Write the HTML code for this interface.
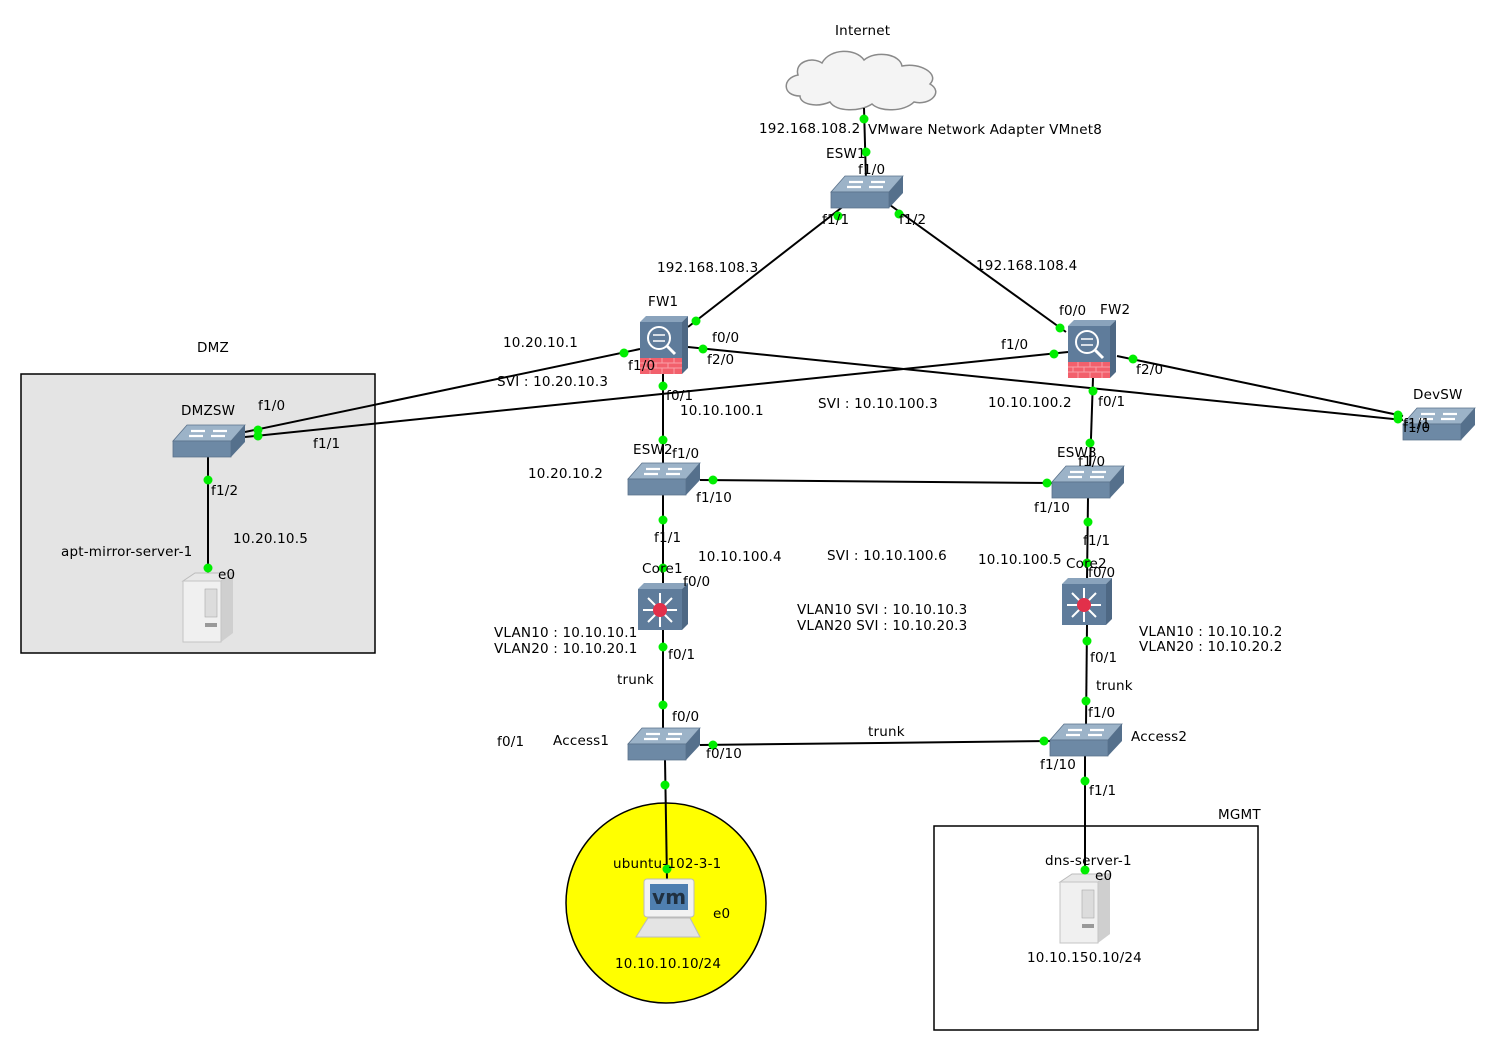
<!DOCTYPE html>
<html><head><meta charset="utf-8"><style>
html,body{margin:0;padding:0;background:#fff;}
svg text{font-family:"DejaVu Sans","Noto Sans CJK KR",sans-serif;font-size:13.5px;letter-spacing:0.2px;fill:#000;}
</style></head><body>
<svg width="1493" height="1051" viewBox="0 0 1493 1051" xmlns="http://www.w3.org/2000/svg">
<defs>
<g id="sw">
<polygon points="14,0 72,0 58,16 0,16" fill="#9cb3c8" stroke="#5a718a" stroke-width="0.8"/>
<polygon points="0,16 58,16 58,32 0,32" fill="#6d89a5" stroke="#5a718a" stroke-width="0.8"/>
<polygon points="58,16 72,0 72,17 58,32" fill="#55708c"/>
<path d="M18,6 h14 M40,6 h14 M16,11 h14 M38,11 h14" stroke="#fff" stroke-width="2.2"/>
</g>
<g id="fw">
<polygon points="0,6 6,0 48,0 42,6" fill="#8aa3bc"/>
<polygon points="42,6 48,0 48,52 42,58" fill="#4e6884"/>
<rect x="0" y="6" width="42" height="36" fill="#5f7c9b"/>
<rect x="0" y="42" width="42" height="16" fill="#f2606c"/>
<path d="M0,47 h42 M0,52 h42 M10,42 v5 M22,42 v5 M34,42 v5 M5,47 v5 M16,47 v5 M28,47 v5 M10,52 v6 M22,52 v6 M34,52 v6" stroke="#f9a0a8" stroke-width="1"/>
<circle cx="19" cy="22" r="11" fill="none" stroke="#fff" stroke-width="2"/>
<path d="M27,30 L35,38" stroke="#fff" stroke-width="3"/>
<path d="M13,19 h12 M25,25 h-12" stroke="#fff" stroke-width="1.5"/>
</g>
<g id="core">
<polygon points="0,6 6,0 50,0 44,6" fill="#8aa3bc"/>
<polygon points="44,6 50,0 50,41 44,47" fill="#4e6884"/>
<rect x="0" y="6" width="44" height="41" fill="#5f7c9b"/>
<path d="M22,10 v34 M5,27 h34 M10,15 L34,39 M34,15 L10,39" stroke="#fff" stroke-width="2"/>
<circle cx="22" cy="27" r="7" fill="#e2304a"/>
</g>
<g id="srv">
<polygon points="0,8 12,0 50,0 38,8" fill="#e8e8e8" stroke="#bbb"/>
<polygon points="38,8 50,0 50,60 38,69" fill="#cfcfcf"/>
<rect x="0" y="8" width="38" height="61" fill="#f0f0f0" stroke="#c4c4c4"/>
<rect x="22" y="16" width="12" height="28" fill="#dcdcdc" stroke="#aaa" stroke-width="0.6"/>
<rect x="22" y="50" width="12" height="4" fill="#999"/>
</g>
</defs>

<rect x="21" y="374" width="354" height="279" fill="#e4e4e4" stroke="#000" stroke-width="1.5"/>
<rect x="934" y="826" width="324" height="204" fill="#fff" stroke="#000" stroke-width="1.5"/>
<circle cx="666" cy="903" r="100" fill="#ffff00" stroke="#000" stroke-width="1.5"/>

<path d="M800,96 C782,96 782,78 798,75 C794,62 812,56 822,63 C830,48 856,48 864,60 C876,50 900,54 902,66 C920,62 940,74 930,84 C944,92 930,106 914,102 C904,112 880,112 872,104 C860,112 836,112 830,102 C816,108 800,104 800,96 Z" fill="#f4f4f4" stroke="#8a8a8a" stroke-width="1.5"/>

<g stroke="#000" stroke-width="2" fill="none">
<line x1="864" y1="108" x2="866" y2="180"/>
<line x1="845" y1="205" x2="688" y2="327"/>
<line x1="890" y1="205" x2="1066" y2="332"/>
<line x1="640" y1="349" x2="245" y2="432"/>
<line x1="1068" y1="352" x2="245" y2="437"/>
<line x1="688" y1="347" x2="1403" y2="420"/>
<line x1="1117" y1="356" x2="1403" y2="416"/>
<line x1="663" y1="374" x2="663" y2="466"/>
<line x1="1093" y1="378" x2="1090" y2="468"/>
<line x1="700" y1="480" x2="1052" y2="483"/>
<line x1="663" y1="495" x2="663" y2="585"/>
<line x1="663" y1="630" x2="663" y2="730"/>
<line x1="1088" y1="498" x2="1087" y2="580"/>
<line x1="1087" y1="625" x2="1086" y2="726"/>
<line x1="700" y1="745" x2="1050" y2="741"/>
<line x1="665" y1="760" x2="667" y2="880"/>
<line x1="1085" y1="756" x2="1085" y2="876"/>
<line x1="208" y1="457" x2="208" y2="576"/>
</g>

<use href="#sw" x="831" y="176"/>
<use href="#sw" x="173" y="425"/>
<use href="#sw" x="628" y="463"/>
<use href="#sw" x="1052" y="466"/>
<use href="#sw" x="1403" y="408"/>
<use href="#sw" x="628" y="728"/>
<use href="#sw" x="1050" y="724"/>
<use href="#fw" x="640" y="316"/>
<use href="#fw" x="1068" y="320"/>
<use href="#core" x="638" y="583"/>
<use href="#core" x="1062" y="578"/>
<use href="#srv" x="183" y="573"/>
<use href="#srv" x="1060" y="874"/>

<g>
<rect x="644" y="879" width="50" height="38" rx="3" fill="#f2f2f2" stroke="#bbb"/>
<rect x="650" y="884" width="38" height="26" fill="#4f7fb0"/>
<text x="652" y="904" style="font-size:20px;font-weight:bold;fill:#203040">vm</text>
<polygon points="648,918 690,918 700,937 636,937" fill="#e4e4e4" stroke="#bbb"/>
</g>

<g fill="#00ee00">
<circle cx="864" cy="119" r="4.5"/><circle cx="866" cy="152" r="4.5"/>
<circle cx="838" cy="216" r="4.5"/><circle cx="696" cy="321" r="4.5"/>
<circle cx="899" cy="214" r="4.5"/><circle cx="1060" cy="328" r="4.5"/>
<circle cx="624" cy="353" r="4.5"/><circle cx="258" cy="430" r="4.5"/>
<circle cx="1054" cy="354" r="4.5"/><circle cx="258" cy="436" r="4.5"/>
<circle cx="703" cy="349" r="4.5"/><circle cx="1398" cy="419" r="4.5"/>
<circle cx="1133" cy="359" r="4.5"/><circle cx="1398" cy="415" r="4.5"/>
<circle cx="663" cy="386" r="4.5"/><circle cx="663" cy="440" r="4.5"/>
<circle cx="1093" cy="391" r="4.5"/><circle cx="1090" cy="443" r="4.5"/>
<circle cx="713" cy="480" r="4.5"/><circle cx="1047" cy="483" r="4.5"/>
<circle cx="663" cy="520" r="4.5"/><circle cx="663" cy="568" r="4.5"/>
<circle cx="663" cy="647" r="4.5"/><circle cx="663" cy="705" r="4.5"/>
<circle cx="1088" cy="522" r="4.5"/><circle cx="1087" cy="563" r="4.5"/>
<circle cx="1087" cy="641" r="4.5"/><circle cx="1086" cy="701" r="4.5"/>
<circle cx="713" cy="745" r="4.5"/><circle cx="1044" cy="741" r="4.5"/>
<circle cx="665" cy="785" r="4.5"/><circle cx="667" cy="869" r="4.5"/>
<circle cx="1085" cy="781" r="4.5"/><circle cx="1085" cy="870" r="4.5"/>
<circle cx="208" cy="480" r="4.5"/><circle cx="208" cy="568" r="4.5"/>
</g>

<g>
<text x="835" y="35">Internet</text>
<text x="759" y="133">192.168.108.2</text>
<text x="868" y="134">VMware Network Adapter VMnet8</text>
<text x="826" y="158">ESW1</text>
<text x="858" y="174">f1/0</text>
<text x="822" y="224">f1/1</text>
<text x="899" y="224">f1/2</text>
<text x="657" y="272">192.168.108.3</text>
<text x="976" y="270">192.168.108.4</text>
<text x="648" y="306">FW1</text>
<text x="1100" y="314">FW2</text>
<text x="1059" y="315">f0/0</text>
<text x="712" y="342">f0/0</text>
<text x="503" y="347">10.20.10.1</text>
<text x="1001" y="349">f1/0</text>
<text x="197" y="352">DMZ</text>
<text x="628" y="370">f1/0</text>
<text x="707" y="364">f2/0</text>
<text x="1136" y="374">f2/0</text>
<text x="497" y="386">SVI : 10.20.10.3</text>
<text x="666" y="400">f0/1</text>
<text x="1413" y="399">DevSW</text>
<text x="818" y="408">SVI : 10.10.100.3</text>
<text x="988" y="407">10.10.100.2</text>
<text x="1098" y="406">f0/1</text>
<text x="258" y="410">f1/0</text>
<text x="181" y="415">DMZSW</text>
<text x="680" y="415">10.10.100.1</text>
<text x="1403" y="432">f1/0</text>
<text x="1403" y="428">f1/1</text>
<text x="313" y="448">f1/1</text>
<text x="633" y="454">ESW2</text>
<text x="672" y="458">f1/0</text>
<text x="1057" y="457">ESW3</text>
<text x="1078" y="466">f1/0</text>
<text x="528" y="478">10.20.10.2</text>
<text x="696" y="502">f1/10</text>
<text x="211" y="495">f1/2</text>
<text x="1034" y="512">f1/10</text>
<text x="654" y="542">f1/1</text>
<text x="1083" y="545">f1/1</text>
<text x="233" y="543">10.20.10.5</text>
<text x="61" y="556">apt-mirror-server-1</text>
<text x="698" y="561">10.10.100.4</text>
<text x="827" y="560">SVI : 10.10.100.6</text>
<text x="978" y="564">10.10.100.5</text>
<text x="1066" y="568">Core2</text>
<text x="1088" y="577">f0/0</text>
<text x="642" y="573">Core1</text>
<text x="218" y="579">e0</text>
<text x="683" y="586">f0/0</text>
<text x="797" y="614">VLAN10 SVI : 10.10.10.3</text>
<text x="797" y="630">VLAN20 SVI : 10.10.20.3</text>
<text x="1139" y="636">VLAN10 : 10.10.10.2</text>
<text x="1139" y="651">VLAN20 : 10.10.20.2</text>
<text x="494" y="637">VLAN10 : 10.10.10.1</text>
<text x="494" y="653">VLAN20 : 10.10.20.1</text>
<text x="668" y="659">f0/1</text>
<text x="1090" y="662">f0/1</text>
<text x="617" y="684">trunk</text>
<text x="1096" y="690">trunk</text>
<text x="1088" y="717">f1/0</text>
<text x="672" y="721">f0/0</text>
<text x="868" y="736">trunk</text>
<text x="1131" y="741">Access2</text>
<text x="497" y="746">f0/1</text>
<text x="553" y="745">Access1</text>
<text x="706" y="758">f0/10</text>
<text x="1040" y="769">f1/10</text>
<text x="1089" y="795">f1/1</text>
<text x="1218" y="819">MGMT</text>
<text x="613" y="868">ubuntu-102-3-1</text>
<text x="1045" y="865">dns-server-1</text>
<text x="1095" y="880">e0</text>
<text x="713" y="918">e0</text>
<text x="1027" y="962">10.10.150.10/24</text>
<text x="615" y="968">10.10.10.10/24</text>
</g>
</svg>
</body></html>
